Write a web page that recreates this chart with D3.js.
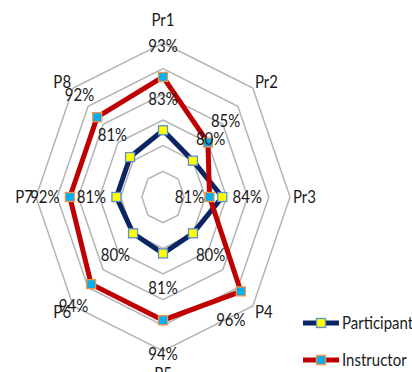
<!DOCTYPE html>
<html>
<head>
<meta charset="utf-8">
<script src="https://cdn.jsdelivr.net/npm/d3@7"></script>
<style>
  html, body { margin: 0; padding: 0; background: #fff; }
  svg { display: block; }
  text { font-family: Lato, "Open Sans", sans-serif; fill: #1a1a1a; }
</style>
</head>
<body>
<svg id="chart" width="412" height="372"></svg>
<script>
// ---- data ----
const categories = ["Pr1", "Pr2", "Pr3", "P4", "P5", "P6", "P7", "P8"];
const participant = [0.83, 0.80, 0.84, 0.80, 0.81, 0.80, 0.81, 0.81];
const instructor  = [0.934, 0.85, 0.81, 0.96, 0.94, 0.94, 0.92, 0.92];
const seriesNames = ["Participant", "Instructor"];
const ringTicks = [0.75, 0.80, 0.85, 0.90, 0.95, 1.00];
const axisMin = 0.70, axisMax = 1.00;

// ---- layout ----
const W = 412, H = 372;
const cx = 163, cy = 197, RX = 127, RY = 154;
const fontSize = 15, stretch = 1.15;
const styles = [
  { line: "#0b2463", fill: "#ffff00", stroke: "#5b8fd6", width: 5 },
  { line: "#c00000", fill: "#00b0f0", stroke: "#f79646", width: 5 }
];
// label placement exceptions [series][category] -> [dx, dy]
const labelOverride = { "1-2": [-20, 0], "1-3": [-10, 28] };

const svg = d3.select("#chart");
const rx = d3.scaleLinear().domain([axisMin, axisMax]).range([0, RX]);
const ry = d3.scaleLinear().domain([axisMin, axisMax]).range([0, RY]);
const ang = d3.scaleLinear().domain([0, categories.length]).range([0, 2 * Math.PI]);

const px = (v, i) => cx + rx(v) * Math.sin(ang(i));
const py = (v, i) => cy - ry(v) * Math.cos(ang(i));

function stretchedText(g, x, y, str, anchor) {
  return g.append("text")
    .attr("transform", `translate(${x},${y}) scale(1,${stretch})`)
    .attr("text-anchor", anchor)
    .attr("dy", "0.36em")
    .style("font-size", fontSize + "px")
    .text(str);
}

// grid rings
const ringLine = d3.line().x(d => d[0]).y(d => d[1]).curve(d3.curveLinearClosed);
svg.append("g").selectAll("path").data(ringTicks).join("path")
  .attr("d", t => ringLine(categories.map((c, i) => [px(t, i), py(t, i)])))
  .attr("fill", "none")
  .attr("stroke", "#b4b4b4")
  .attr("stroke-width", 1.5);

// category labels
const catG = svg.append("g");
categories.forEach((c, i) => {
  const a = ang(i), s = Math.sin(a), co = Math.cos(a);
  const vx = px(axisMax, i), vy = py(axisMax, i);
  const anchor = Math.abs(s) < 0.1 ? "middle" : (s > 0 ? "start" : "end");
  const dy = Math.abs(co) > 0.9 ? -co * 23 : -co * 9;
  const dx = Math.abs(s) < 0.1 ? 0 : s * 3;
  stretchedText(catG, vx + dx, vy + dy, c, anchor);
});

// series
const series = [participant, instructor];
const fmt = d3.format(".0%");
const dataLine = d3.line().curve(d3.curveLinearClosed);
series.forEach((vals, k) => {
  const st = styles[k];
  const g = svg.append("g");
  const pts = vals.map((v, i) => [px(v, i), py(v, i)]);
  g.append("path").attr("d", dataLine(pts))
    .attr("fill", "none").attr("stroke", st.line)
    .attr("stroke-width", st.width).attr("stroke-linejoin", "miter");
  g.selectAll("rect").data(pts).join("rect")
    .attr("x", d => d[0] - 4.5).attr("y", d => d[1] - 4.5)
    .attr("width", 9).attr("height", 9)
    .attr("fill", st.fill).attr("stroke", st.stroke).attr("stroke-width", 1.3);
});

// data labels
const labG = svg.append("g");
series.forEach((vals, k) => {
  vals.forEach((v, i) => {
    const a = ang(i);
    let dx = 25 * Math.sin(a), dy = -31 * Math.cos(a);
    if (Math.abs(Math.cos(a)) > 0.9 && Math.cos(a) < 0) dy = 34;
    const ov = labelOverride[k + "-" + i];
    if (ov) { dx = ov[0]; dy = ov[1]; }
    stretchedText(labG, px(v, i) + dx, py(v, i) + dy, fmt(v), "middle");
  });
});

// legend
const legG = svg.append("g");
seriesNames.forEach((name, k) => {
  const st = styles[k];
  const y = 323 + k * 37;
  legG.append("line").attr("x1", 303).attr("x2", 339).attr("y1", y).attr("y2", y)
    .attr("stroke", st.line).attr("stroke-width", st.width);
  legG.append("rect").attr("x", 321 - 4.5).attr("y", y - 4.5).attr("width", 9).attr("height", 9)
    .attr("fill", st.fill).attr("stroke", st.stroke).attr("stroke-width", 1.3);
  stretchedText(legG, 342, y, name, "start");
});
</script>
</body>
</html>
